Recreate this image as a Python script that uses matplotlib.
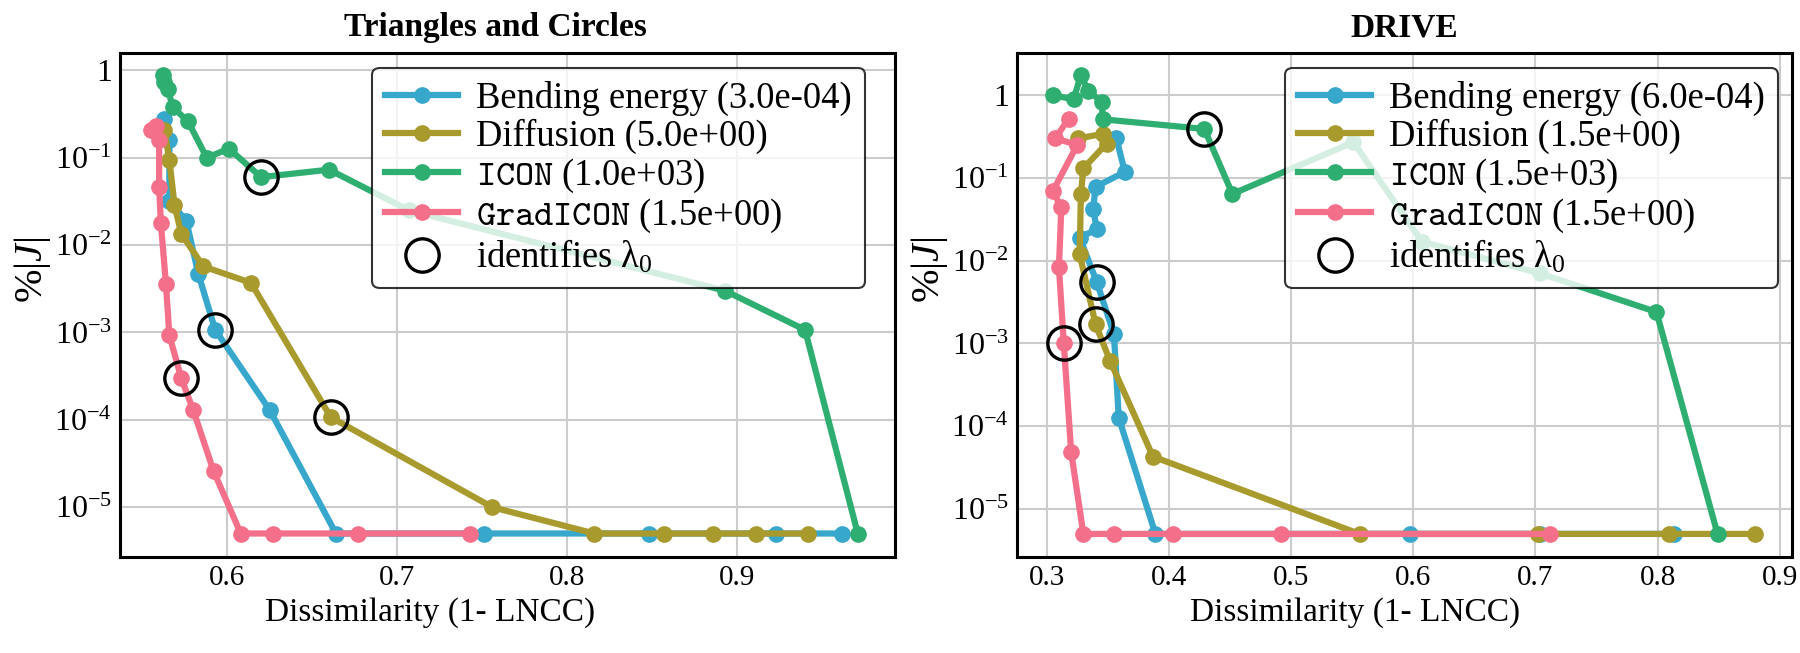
import numpy as np
import matplotlib
matplotlib.use("Agg")
import matplotlib.pyplot as plt
from matplotlib.ticker import FixedLocator, FixedFormatter, NullLocator

plt.rcParams['font.family'] = ['Liberation Serif', 'DejaVu Serif']
plt.rcParams['mathtext.fontset'] = 'custom'
plt.rcParams['mathtext.rm'] = 'Liberation Serif'
plt.rcParams['mathtext.it'] = 'Liberation Serif:italic'
plt.rcParams['mathtext.bf'] = 'Liberation Serif:bold'
plt.rcParams['mathtext.tt'] = 'cmtt10'

FLOOR = 5e-6

# Triangles and Circles
tc_bend_x = [0.563, 0.566, 0.566, 0.576, 0.583, 0.593, 0.625, 0.664, 0.751, 0.848, 0.923, 0.962]
tc_bend_y = [0.28, 0.16, 0.032, 0.019, 4.7e-3, 1.07e-3, 1.3e-4, FLOOR, FLOOR, FLOOR, FLOOR, FLOOR]
tc_diff_x = [0.563, 0.566, 0.569, 0.573, 0.586, 0.614, 0.661, 0.756, 0.816, 0.857, 0.886, 0.911, 0.942]
tc_diff_y = [0.21, 0.095, 0.029, 0.0135, 5.7e-3, 3.7e-3, 1.07e-4, 1e-5, FLOOR, FLOOR, FLOOR, FLOOR, FLOOR]
tc_icon_x = [0.562, 0.563, 0.565, 0.568, 0.577, 0.588, 0.601, 0.620, 0.660, 0.707, 0.893, 0.940, 0.971]
tc_icon_y = [0.88, 0.74, 0.62, 0.38, 0.26, 0.10, 0.127, 0.060, 0.073, 0.025, 3.0e-3, 1.07e-3, FLOOR]
tc_grad_x = [0.558, 0.555, 0.560, 0.560, 0.561, 0.564, 0.566, 0.573, 0.580, 0.592, 0.608, 0.627, 0.677, 0.743]
tc_grad_y = [0.23, 0.21, 0.16, 0.046, 0.018, 3.6e-3, 9.3e-4, 3.0e-4, 1.3e-4, 2.6e-5, FLOOR, FLOOR, FLOOR, FLOOR]
tc_circ_x = [0.620, 0.593, 0.661, 0.573]
tc_circ_y = [0.060, 1.07e-3, 1.07e-4, 3.0e-4]
tc_labels = ['Bending energy (3.0e-04)', 'Diffusion (5.0e+00)',
             r'$\mathtt{ICON}$ (1.0e+03)', r'$\mathtt{GradICON}$ (1.5e+00)']

# DRIVE
dr_bend_x = [0.357, 0.364, 0.340, 0.338, 0.341, 0.327, 0.341, 0.355, 0.359, 0.389, 0.597, 0.704, 0.813]
dr_bend_y = [0.30, 0.118, 0.078, 0.042, 0.024, 0.019, 5.5e-3, 1.3e-3, 1.26e-4, FLOOR, FLOOR, FLOOR, FLOOR]
dr_diff_x = [0.326, 0.346, 0.349, 0.330, 0.328, 0.327, 0.340, 0.352, 0.387, 0.556, 0.702, 0.809, 0.880]
dr_diff_y = [0.30, 0.34, 0.26, 0.13, 0.063, 0.012, 1.7e-3, 6.1e-4, 4.3e-5, FLOOR, FLOOR, FLOOR, FLOOR]
dr_icon_x = [0.305, 0.322, 0.328, 0.334, 0.345, 0.346, 0.429, 0.452, 0.551, 0.607, 0.704, 0.799, 0.849]
dr_icon_y = [1.0, 0.89, 1.74, 1.13, 0.83, 0.51, 0.39, 0.064, 0.27, 0.017, 7e-3, 2.4e-3, FLOOR]
dr_grad_x = [0.318, 0.307, 0.325, 0.305, 0.312, 0.310, 0.314, 0.320, 0.330, 0.355, 0.403, 0.492, 0.712]
dr_grad_y = [0.52, 0.30, 0.25, 0.069, 0.044, 8.3e-3, 1.0e-3, 4.9e-5, FLOOR, FLOOR, FLOOR, FLOOR, FLOOR]
dr_circ_x = [0.429, 0.341, 0.340, 0.314]
dr_circ_y = [0.39, 5.5e-3, 1.7e-3, 1.0e-3]
dr_labels = ['Bending energy (6.0e-04)', 'Diffusion (1.5e+00)',
             r'$\mathtt{ICON}$ (1.5e+03)', r'$\mathtt{GradICON}$ (1.5e+00)']

colors = ['#37a7cc', '#a99a2e', '#2fae72', '#f4708a']
ytick_vals = [1, 1e-1, 1e-2, 1e-3, 1e-4, 1e-5]
ytick_labels = ['1', r'$10^{-1}$', r'$10^{-2}$', r'$10^{-3}$', r'$10^{-4}$', r'$10^{-5}$']

fig = plt.figure(figsize=(18, 6.53), dpi=100)
ax1 = fig.add_axes([0.0667, 0.147, 0.4306, 0.772])
ax2 = fig.add_axes([0.565, 0.147, 0.4306, 0.772])

panels = [
    (ax1, 'Triangles and Circles', 0.484, 0.40, 0.961,
     [(tc_bend_x, tc_bend_y), (tc_diff_x, tc_diff_y), (tc_icon_x, tc_icon_y), (tc_grad_x, tc_grad_y)],
     tc_labels, tc_circ_x, tc_circ_y, (0.537, 0.993), (10**-5.57, 10**0.2), [0.6, 0.7, 0.8, 0.9]),
    (ax2, 'DRIVE', 0.5, 0.436, 0.982,
     [(dr_bend_x, dr_bend_y), (dr_diff_x, dr_diff_y), (dr_icon_x, dr_icon_y), (dr_grad_x, dr_grad_y)],
     dr_labels, dr_circ_x, dr_circ_y, (0.2757, 0.910), (10**-5.58, 10**0.51),
     [0.3, 0.4, 0.5, 0.6, 0.7, 0.8, 0.9]),
]

for ax, title, tx, lx, legx, series, labels, cx, cy, xlim, ylim, xticks in panels:
    for (x, y), lab, c in zip(series, labels, colors):
        ax.plot(x, y, '-o', color=c, lw=4.5, ms=11, label=lab, zorder=3)
    ax.plot(cx, cy, 'o', ms=24, mfc='none', mec='black', mew=2.4,
            label=r'identifies $\mathrm{\lambda}_0$', zorder=5)
    ax.set_yscale('log')
    ax.set_xlim(*xlim)
    ax.set_ylim(*ylim)
    ax.yaxis.set_major_locator(FixedLocator(ytick_vals))
    ax.yaxis.set_major_formatter(FixedFormatter(ytick_labels))
    ax.yaxis.set_minor_locator(NullLocator())
    ax.set_xticks(xticks)
    ax.set_xticklabels([f'{t:.1f}' for t in xticks])
    ax.tick_params(axis='x', length=0, labelsize=21, pad=6)
    ax.tick_params(axis='y', length=0, labelsize=23, pad=6)
    ax.grid(True, color='#cccccc', lw=1.5)
    ax.set_axisbelow(True)
    for s in ax.spines.values():
        s.set_color('black')
        s.set_linewidth(2.2)
    ax.set_title(title, fontsize=24, fontweight='bold', pad=12, x=tx)
    ax.set_xlabel('Dissimilarity (1- LNCC)', fontsize=24)
    ax.xaxis.set_label_coords(lx, -0.08)
    ax.set_ylabel(r'$\%|J|$', fontsize=29)
    ax.yaxis.set_label_coords(-0.087, 0.57)
    leg = ax.legend(loc='upper right', bbox_to_anchor=(legx, 0.97), borderaxespad=0,
                    fontsize=26.3, framealpha=0.8, edgecolor='black',
                    fancybox=True, labelspacing=0.07, handlelength=2.0, handletextpad=0.5,
                    borderpad=0.35)
    leg.get_frame().set_linewidth(1.5)

fig.savefig('out.png', dpi=100)
